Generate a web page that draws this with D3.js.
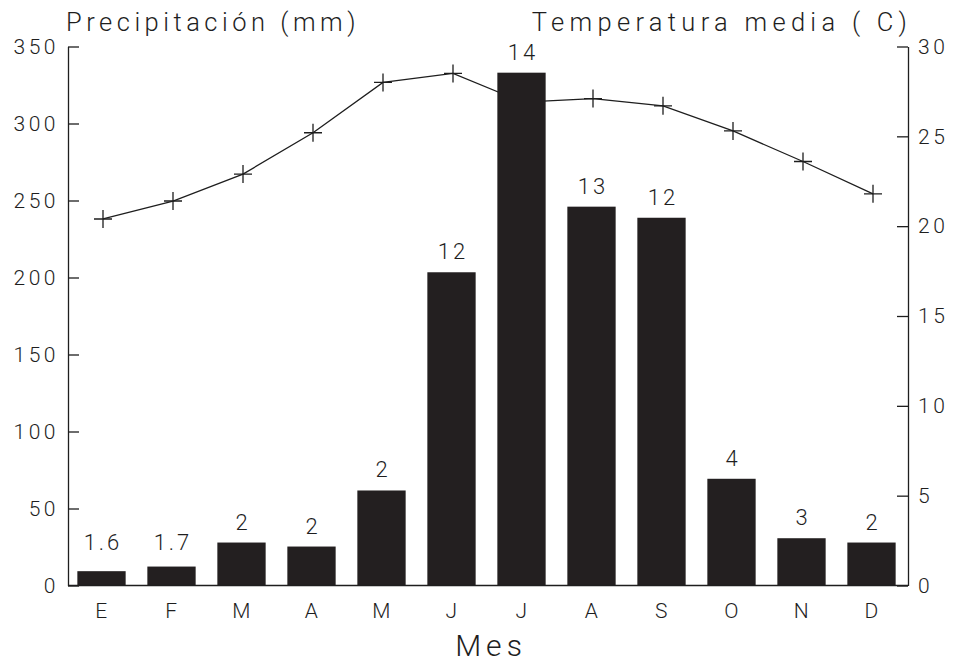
<!DOCTYPE html>
<html>
<head>
<meta charset="utf-8">
<script src="https://cdn.jsdelivr.net/npm/d3@7"></script>
<style>
  html, body { margin: 0; padding: 0; background: #fff; }
  svg text { font-family: Roboto, "Liberation Sans", sans-serif; font-weight: 300; fill: #1e1e1e; }
</style>
</head>
<body>
<svg id="chart" width="954" height="665"></svg>
<script>
// ---- data ----
const months = ["E", "F", "M", "A", "M", "J", "J", "A", "S", "O", "N", "D"];
const precipitation = [9.3, 12.3, 27.9, 25.3, 61.7, 203.4, 333, 246, 238.8, 69.3, 30.7, 27.9];
const rainDays = ["1.6", "1.7", "2", "2", "2", "12", "14", "13", "12", "4", "3", "2"];
const temperature = [20.4, 21.4, 22.9, 25.2, 28.0, 28.5, 26.9, 27.1, 26.7, 25.3, 23.6, 21.8];
const precipTicks = [0, 50, 100, 150, 200, 250, 300, 350];
const tempTicks = [0, 5, 10, 15, 20, 25, 30];

(function () {
// ---- layout ----
const svg = d3.select("#chart");
const mLeft = 68, mRight = 908, mTop = 46.5, mBottom = 585.5;
const ink = "#1e1e1e";

const idx = months.map((d, i) => i);
const x = d3.scaleBand().domain(idx).range([mLeft, mRight]).paddingInner(0.31).paddingOuter(0.155);
const yP = d3.scaleLinear().domain([0, 350]).range([mBottom, mTop]);
const yT = d3.scaleLinear().domain([0, 30]).range([mBottom, mTop]);

// line (temperature) + crosses, drawn beneath the bars
const line = d3.line().x((d, i) => x(i) + x.bandwidth() / 2).y(d => yT(d));
svg.append("path").datum(temperature)
  .attr("d", line).attr("fill", "none").attr("stroke", ink).attr("stroke-width", 1.3);
svg.append("g").selectAll("path").data(temperature).join("path")
  .attr("transform", (d, i) => `translate(${x(i) + x.bandwidth() / 2},${yT(d)})`)
  .attr("d", "M-9,0H9M0,-9V9")
  .attr("stroke", ink).attr("stroke-width", 1.3);

// bars
svg.append("g").selectAll("rect").data(precipitation).join("rect")
  .attr("x", (d, i) => x(i) - 1.5)
  .attr("width", x.bandwidth())
  .attr("y", d => yP(d))
  .attr("height", d => yP(0) - yP(d))
  .attr("fill", "#231f20");

// bar labels
svg.append("g").selectAll("text").data(precipitation).join("text")
  .attr("x", (d, i) => x(i) + x.bandwidth() / 2)
  .attr("y", d => yP(Math.max(d, 14.5)) - 13)
  .attr("text-anchor", "middle")
  .style("font-size", "22px").style("letter-spacing", "3px")
  .text((d, i) => rainDays[i]);

// axes
const axL = d3.axisLeft(yP).tickValues(precipTicks).tickSizeInner(-11).tickSizeOuter(0).tickPadding(9);
const gL = svg.append("g").attr("transform", `translate(${mLeft},0)`).call(axL);
const axR = d3.axisRight(yT).tickValues(tempTicks).tickSizeInner(-11).tickSizeOuter(0).tickPadding(10);
const gR = svg.append("g").attr("transform", `translate(${mRight},0)`).call(axR);
const axB = d3.axisBottom(x).tickFormat(i => months[i]).tickSize(0).tickPadding(18);
const gB = svg.append("g").attr("transform", `translate(0,${mBottom})`).call(axB);

[gL, gR, gB].forEach(g => {
  g.selectAll(".domain").attr("stroke", ink).attr("stroke-width", 1.3);
  g.selectAll(".tick line").attr("stroke", ink).attr("stroke-width", 1.3);
  g.selectAll(".tick text").attr("fill", ink)
    .style("font-family", "Roboto, 'Liberation Sans', sans-serif")
    .style("font-weight", 300).style("font-size", "21px").style("letter-spacing", "3.5px");
});
gB.select(".domain").attr("d", `M${mLeft},0H${mRight}`);

// titles
svg.append("text").attr("x", 66).attr("y", 31)
  .style("font-size", "25.5px").style("letter-spacing", "4.5px")
  .text("Precipitación (mm)");
svg.append("text").attr("x", 912).attr("y", 31).attr("text-anchor", "end")
  .style("font-size", "25.5px").style("letter-spacing", "5.3px")
  .text("Temperatura media ( C)");
svg.append("text").attr("x", (mLeft + mRight) / 2 + 3).attr("y", 656).attr("text-anchor", "middle")
  .style("font-size", "30px").style("letter-spacing", "5px")
  .text("Mes");
})();
</script>
</body>
</html>
